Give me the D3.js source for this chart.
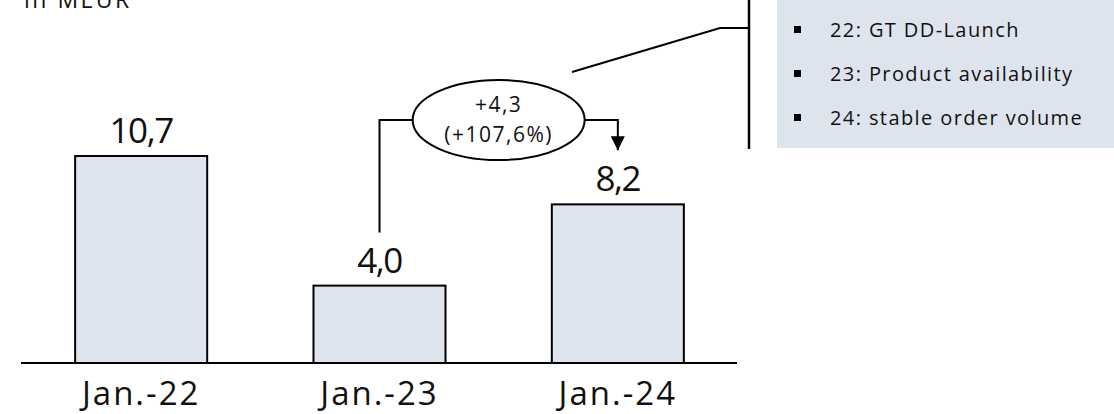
<!DOCTYPE html>
<html>
<head>
<meta charset="utf-8">
<script src="https://cdn.jsdelivr.net/npm/d3@7/dist/d3.min.js"></script>
<style>
  html, body { margin: 0; padding: 0; background: #fff; }
  svg { display: block; font-family: "Open Sans", "Noto Sans", sans-serif; }
</style>
</head>
<body>
<svg id="chart" width="1114" height="414"></svg>
<script>
// Order intake per January, in MEUR
const categories = ["Jan.-22", "Jan.-23", "Jan.-24"];
const values = [10.7, 4.0, 8.2];
const valueLabels = ["10,7", "4,0", "8,2"];
const deltaLabels = ["+4,3", "(+107,6%)"];
const notes = ["22: GT DD-Launch", "23: Product availability", "24: stable order volume"];
const unitLabel = "in MEUR";

const svg = d3.select("#chart");
const baseY = 363;

const x = d3.scaleBand()
  .domain(categories)
  .range([22, 737])
  .paddingInner(0.446)
  .paddingOuter(0.223);

const y = d3.scaleLinear()
  .domain([0, 10.7])
  .range([baseY, 156]);

// unit caption (partly above the top edge)
svg.append("text")
  .attr("x", 24).attr("y", 8)
  .attr("font-size", 23)
  .attr("letter-spacing", 2.5)
  .attr("fill", "#111")
  .text(unitLabel);

// bars
svg.append("g").selectAll("rect")
  .data(values)
  .join("rect")
  .attr("x", (d, i) => x(categories[i]))
  .attr("y", d => y(d))
  .attr("width", x.bandwidth())
  .attr("height", d => y(0) - y(d))
  .attr("fill", "#dee4ee")
  .attr("stroke", "#000")
  .attr("stroke-width", 2);

// value labels
svg.append("g").selectAll("text")
  .data(values)
  .join("text")
  .attr("x", (d, i) => x(categories[i]) + x.bandwidth() / 2)
  .attr("y", d => y(d) - 13)
  .attr("text-anchor", "middle")
  .attr("font-size", 35)
  .attr("letter-spacing", -1.5)
  .attr("fill", "#111")
  .text((d, i) => valueLabels[i]);

// category axis
const axis = svg.append("g")
  .attr("transform", `translate(0,${baseY})`)
  .call(d3.axisBottom(x).tickSize(0).tickPadding(19));
axis.select(".domain").remove();
axis.selectAll("text")
  .attr("font-size", 33)
  .attr("letter-spacing", 2)
  .attr("font-family", "'Open Sans', 'Noto Sans', sans-serif")
  .attr("fill", "#111")
  .attr("dy", "0.71em");

svg.append("line")
  .attr("x1", 21).attr("x2", 737)
  .attr("y1", baseY).attr("y2", baseY)
  .attr("stroke", "#000").attr("stroke-width", 2);

// growth connector from Jan.-23 to Jan.-24
const cx1 = x(categories[1]) + x.bandwidth() / 2;
const cx2 = x(categories[2]) + x.bandwidth() / 2;
const ey = 120, ecx = (cx1 + cx2) / 2, rx = 86, ry = 40;

svg.append("defs").append("marker")
  .attr("id", "arrow")
  .attr("viewBox", "0 0 10 10")
  .attr("refX", 10).attr("refY", 5)
  .attr("markerWidth", 14).attr("markerHeight", 14)
  .attr("markerUnits", "userSpaceOnUse")
  .attr("orient", "auto")
  .append("path").attr("d", "M0,0L10,5L0,10Z").attr("fill", "#000");

svg.append("path")
  .attr("d", `M${cx1},${y(values[1]) - 53}V${ey}H${ecx - rx}`)
  .attr("fill", "none").attr("stroke", "#000").attr("stroke-width", 2);

svg.append("path")
  .attr("d", `M${ecx + rx},${ey}H${cx2}V${y(values[2]) - 54}`)
  .attr("fill", "none").attr("stroke", "#000").attr("stroke-width", 2)
  .attr("marker-end", "url(#arrow)");

svg.append("ellipse")
  .attr("cx", ecx).attr("cy", ey).attr("rx", rx).attr("ry", ry)
  .attr("fill", "#fff").attr("stroke", "#000").attr("stroke-width", 2);

svg.append("text")
  .attr("x", ecx).attr("y", ey - 8)
  .attr("text-anchor", "middle").attr("font-size", 21)
  .attr("letter-spacing", 1.5).attr("fill", "#111")
  .text(deltaLabels[0]);
svg.append("text")
  .attr("x", ecx).attr("y", ey + 22)
  .attr("text-anchor", "middle").attr("font-size", 21)
  .attr("letter-spacing", 1.5).attr("fill", "#111")
  .text(deltaLabels[1]);

// pointer line and bracket to the notes box
svg.append("path")
  .attr("d", "M572,72L720,28H749")
  .attr("fill", "none").attr("stroke", "#000").attr("stroke-width", 2);
svg.append("line")
  .attr("x1", 749).attr("x2", 749).attr("y1", 0).attr("y2", 149)
  .attr("stroke", "#000").attr("stroke-width", 2.5);

// notes box
svg.append("rect")
  .attr("x", 777).attr("y", 0).attr("width", 337).attr("height", 148)
  .attr("fill", "#dee4ee");

const noteRows = svg.append("g").selectAll("g")
  .data(notes)
  .join("g")
  .attr("transform", (d, i) => `translate(0,${30 + i * 44})`);
noteRows.append("rect")
  .attr("x", 794).attr("y", -4).attr("width", 7).attr("height", 7)
  .attr("fill", "#000");
noteRows.append("text")
  .attr("x", 830).attr("y", 7)
  .attr("font-size", 20)
  .attr("letter-spacing", 1.4)
  .attr("fill", "#111")
  .text(d => d);
</script>
</body>
</html>
